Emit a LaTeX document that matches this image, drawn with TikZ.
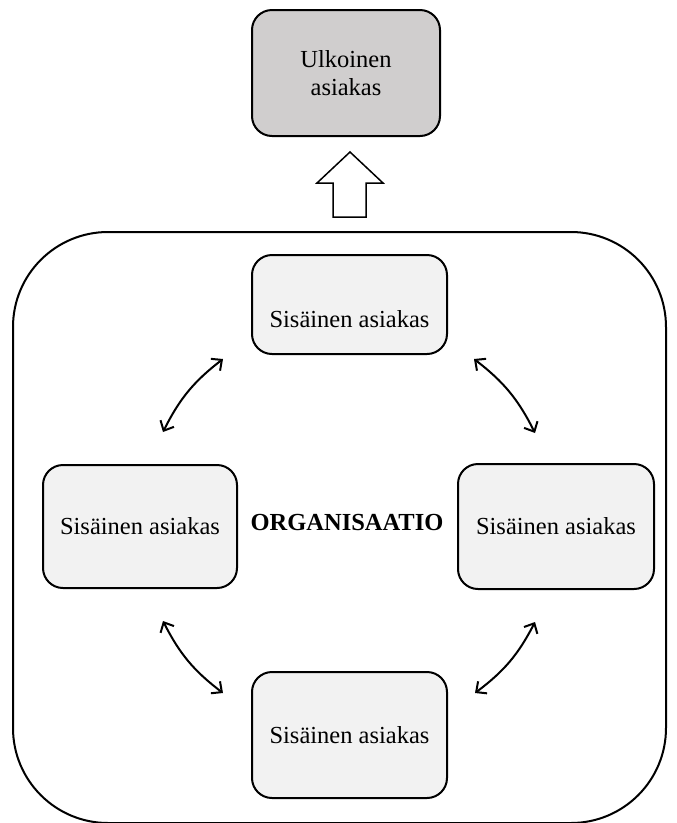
\documentclass[tikz,border=0pt]{standalone}
\usepackage{fontspec}
\setmainfont{Liberation Serif}
\usetikzlibrary{arrows.meta}
\definecolor{outerfill}{HTML}{D0CECE}
\definecolor{innerfill}{HTML}{F2F2F2}
\begin{document}
\begin{tikzpicture}[x=1pt,y=-1pt,
  font=\fontsize{24.5}{28}\selectfont,
  custbox/.style={draw=black,line width=2pt,rounded corners=20pt,
    inner sep=0pt,outer sep=0pt,align=center},
  outerbox/.style={custbox,fill=outerfill},
  innerbox/.style={custbox,fill=innerfill},
  link/.style={line width=2pt,{Straight Barb[length=8pt,width=15pt]}-{Straight Barb[length=8pt,width=15pt]},bend left=13}
]
\useasboundingbox (0,0) rectangle (677,823);

% organisation frame
\draw[line width=2pt,rounded corners=95pt] (13,232) rectangle (666,823);

% external customer
\node[outerbox,minimum width=188pt,minimum height=126pt] (ulk) at (346,73)
  {Ulkoinen\\asiakas};

% hollow block arrow towards the external customer
\coordinate (ba) at (350,152);
\draw[line width=1.5pt,fill=white,line join=miter]
  (333,217) -- (333,183) -- (317,183) -- (ba) -- (383,183) -- (366,183)
  -- (366,217) -- cycle;

% internal customers
\node[innerbox,minimum width=195pt,minimum height=99pt,
  label={[yshift=-15pt]center:Sisäinen asiakas}] (top) at (349.5,304.5) {};
\node[innerbox,minimum width=194pt,minimum height=123pt] (left) at (140,526.5)
  {Sisäinen asiakas};
\node[innerbox,minimum width=196pt,minimum height=125pt] (right) at (556,526.5)
  {Sisäinen asiakas};
\node[innerbox,minimum width=195pt,minimum height=126pt] (bottom) at (349.5,735)
  {Sisäinen asiakas};

\node[font=\fontsize{24.5}{28}\selectfont\bfseries] (org) at (347,522) {ORGANISAATIO};

% two-way links between the internal customers
\coordinate (tl1) at (163,432); \coordinate (tl2) at (223,359);
\coordinate (tr1) at (474,359); \coordinate (tr2) at (535,433);
\coordinate (br1) at (535,622); \coordinate (br2) at (475,693);
\coordinate (bl1) at (223,693); \coordinate (bl2) at (163,621);
\draw[link] (tl1) to (tl2);
\draw[link] (tr1) to (tr2);
\draw[link] (br1) to (br2);
\draw[link] (bl1) to (bl2);
\end{tikzpicture}
\end{document}
